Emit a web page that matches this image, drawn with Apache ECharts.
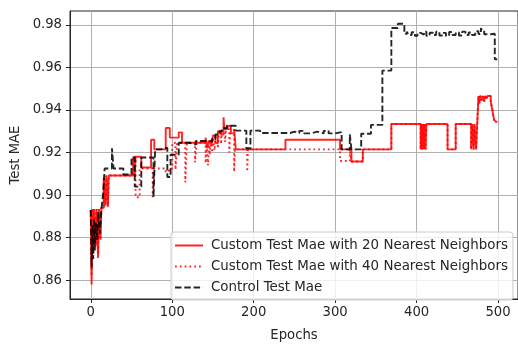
<!DOCTYPE html>
<html>
<head>
<meta charset="utf-8">
<script src="https://cdn.jsdelivr.net/npm/echarts@6/dist/echarts.min.js"></script>
<style>
  html, body { margin: 0; padding: 0; background: #ffffff; }
  #chart { width: 518px; height: 347px; }
</style>
</head>
<body>
<div id="chart"></div>
<script>
// Test MAE per epoch, stored as change points (epoch where the value changes, new value).
const seriesNames = [
  'Custom Test Mae with 20 Nearest Neighbors',
  'Custom Test Mae with 40 Nearest Neighbors',
  'Control Test Mae'
];

const epochs20 = [0, 1, 2, 3, 4, 6, 7, 9, 10, 12, 13, 16, 18, 19, 21, 22, 52, 54, 55, 62, 74, 78, 92, 97, 108, 112,
  141, 143, 145, 148, 150, 153, 156, 160, 163, 164, 168, 172, 176, 178, 239, 306, 320, 334, 369,
  405, 406, 407, 408, 409, 410, 411, 412, 438, 448, 467, 468, 470, 471, 473, 474, 476, 477, 478, 480, 481,
  483, 484, 486, 487, 491, 493, 495, 497, 499];
const mae20 = [0.893, 0.858, 0.8935, 0.873, 0.8935, 0.876, 0.8935, 0.8705, 0.8935, 0.879, 0.894, 0.908, 0.895, 0.9092, 0.8945, 0.9092, 0.918, 0.9085, 0.918, 0.913, 0.926, 0.9215, 0.9315, 0.927, 0.9295, 0.9246,
  0.927, 0.922, 0.9255, 0.923, 0.928, 0.9245, 0.930, 0.9285, 0.9366, 0.931, 0.9325, 0.929, 0.931, 0.9215, 0.926, 0.9215, 0.9158, 0.9215, 0.9334,
  0.9215, 0.9334, 0.9215, 0.9334, 0.9215, 0.9334, 0.9215, 0.9334, 0.9215, 0.9334, 0.9215, 0.9334, 0.9215, 0.9334, 0.9215, 0.930, 0.9466, 0.943, 0.9466, 0.9445, 0.9466,
  0.944, 0.9466, 0.9455, 0.9466, 0.944, 0.940, 0.9355, 0.9345, 0.9345];

const epochs40 = [0, 1, 2, 3, 4, 6, 7, 9, 10, 12, 13, 16, 18, 19, 21, 22, 52, 55, 60, 76, 78, 92, 96, 100, 104, 106,
  116, 118, 128, 130, 141, 142, 144, 145, 146, 147, 149, 150, 152, 153, 156, 157, 160, 161, 165, 166, 170, 171,
  176, 177, 192, 193, 306, 318, 320, 334, 369, 405, 406, 407, 408, 409, 410, 411, 412, 438, 448, 467, 468, 470,
  471, 473, 474, 476, 477, 478, 480, 481, 483, 484, 486, 487, 491, 493, 495, 497, 499];
const mae40 = [0.893, 0.862, 0.8935, 0.876, 0.8935, 0.878, 0.8935, 0.872, 0.8935, 0.880, 0.894, 0.908, 0.896, 0.9092, 0.895, 0.9092, 0.918, 0.899, 0.9125, 0.899, 0.9125, 0.911, 0.9125, 0.9245, 0.912, 0.9245,
  0.906, 0.9246, 0.9154, 0.9246, 0.915, 0.9255, 0.914, 0.925, 0.919, 0.926, 0.920, 0.927, 0.921, 0.928, 0.922, 0.929, 0.924, 0.931, 0.925, 0.931, 0.920, 0.931,
  0.911, 0.9215, 0.911, 0.9215, 0.916, 0.9215, 0.9158, 0.9215, 0.9334, 0.9215, 0.9334, 0.9215, 0.9334, 0.9215, 0.9334, 0.9215, 0.9334, 0.9215, 0.9334, 0.9215, 0.9334, 0.9215,
  0.9334, 0.9215, 0.930, 0.9466, 0.943, 0.9466, 0.9445, 0.9466, 0.944, 0.9466, 0.9455, 0.9466, 0.944, 0.940, 0.9355, 0.9345, 0.9345];

const epochsCtrl = [0, 1, 2, 3, 4, 5, 6, 8, 9, 11, 13, 15, 17, 26, 28, 40, 50, 54, 62, 77, 79, 86, 94, 98, 108, 121, 129,
  145, 149, 153, 158, 161, 167, 178, 191, 196, 208, 245, 250, 256, 262, 270, 278, 286, 292, 300, 308, 318, 320,
  332, 344, 358, 369, 377, 385, 388, 390, 394, 398, 401, 405, 409, 412, 416, 420, 424, 428, 432, 436, 440, 444,
  448, 452, 456, 460, 464, 468, 472, 476, 479, 480, 483, 491, 496, 499];
const maeCtrl = [0.893, 0.866, 0.886, 0.870, 0.889, 0.874, 0.887, 0.879, 0.892, 0.882, 0.893, 0.900, 0.9125, 0.922, 0.9125, 0.9097, 0.9177, 0.904, 0.9177, 0.899, 0.9215, 0.9223, 0.9085, 0.919, 0.9246, 0.9238, 0.9254,
  0.925, 0.9265, 0.9285, 0.930, 0.9315, 0.9326, 0.9303, 0.922, 0.9303, 0.9292, 0.9298, 0.9292, 0.9302, 0.929, 0.9298, 0.929, 0.9302, 0.929, 0.9296, 0.9215, 0.9285, 0.9215,
  0.9288, 0.933, 0.9585, 0.9785, 0.9805, 0.9758, 0.9768, 0.9752, 0.9765, 0.9748, 0.9762, 0.9754, 0.9768, 0.9748, 0.9763, 0.9752, 0.9768, 0.975, 0.9762, 0.9748, 0.9766, 0.9752,
  0.9764, 0.975, 0.9768, 0.9752, 0.9764, 0.9752, 0.977, 0.9757, 0.9785, 0.9774, 0.9756, 0.9758, 0.9638, 0.9638];

const xTicks = [0, 100, 200, 300, 400, 500];
const yTicks = [0.86, 0.88, 0.90, 0.92, 0.94, 0.96, 0.98];

function pairs(xs, ys) {
  return xs.map((x, i) => [x, ys[i]]);
}

const FONT = 'DejaVu Sans';
const FS = 13.2;
const TEXT = '#262626';

const chart = echarts.init(document.getElementById('chart'), null, { renderer: 'canvas' });

chart.setOption({
  animation: false,
  backgroundColor: '#ffffff',
  grid: {
    left: 70, top: 11, right: -3, bottom: 43,
    show: true, borderColor: '#262626', borderWidth: 1, backgroundColor: 'transparent'
  },
  xAxis: {
    type: 'value',
    min: -25.5, max: 524.5,
    name: 'Epochs', nameLocation: 'middle', nameGap: 30,
    nameTextStyle: { fontFamily: FONT, fontSize: FS, color: TEXT },
    axisLine: { show: true, onZero: false, lineStyle: { color: '#262626', width: 1 } },
    axisTick: { show: true, length: 4, customValues: xTicks, lineStyle: { color: '#262626' } },
    axisLabel: { customValues: xTicks, margin: 7, fontFamily: FONT, fontSize: FS, color: TEXT },
    splitLine: { show: true, lineStyle: { color: '#b0b0b0', width: 1 } }
  },
  yAxis: {
    type: 'value',
    min: 0.8512, max: 0.9865,
    name: 'Test MAE', nameLocation: 'middle', nameGap: 44,
    nameTextStyle: { fontFamily: FONT, fontSize: FS, color: TEXT },
    axisLine: { show: true, onZero: false, lineStyle: { color: '#262626', width: 1 } },
    axisTick: { show: true, length: 4, customValues: yTicks, lineStyle: { color: '#262626' } },
    axisLabel: {
      customValues: yTicks, margin: 8, fontFamily: FONT, fontSize: FS, color: TEXT,
      formatter: v => v.toFixed(2)
    },
    splitLine: { show: true, lineStyle: { color: '#b0b0b0', width: 1 } }
  },
  legend: {
    orient: 'vertical',
    left: 171, top: 232,
    padding: [7, 5, 6, 3],
    itemWidth: 28, itemHeight: 11, itemGap: 8,
    itemStyle: { opacity: 0 },
    backgroundColor: 'rgba(255,255,255,0.8)',
    borderColor: '#cccccc', borderWidth: 1, borderRadius: 3,
    textStyle: { fontFamily: FONT, fontSize: 13.4, color: TEXT, padding: [0, 0, 0, 3] },
    data: seriesNames
  },
  series: [
    {
      name: seriesNames[0], type: 'line', step: 'end', showSymbol: false, symbol: 'none',
      data: pairs(epochs20, mae20),
      lineStyle: { color: '#ff0000', width: 1.9, opacity: 0.85 },
      itemStyle: { color: '#ff0000' }, z: 2
    },
    {
      name: seriesNames[1], type: 'line', step: 'end', showSymbol: false, symbol: 'none',
      data: pairs(epochs40, mae40),
      lineStyle: { color: '#ff0000', width: 1.9, opacity: 0.85, type: [1.8, 3] },
      itemStyle: { color: '#ff0000' }, z: 3
    },
    {
      name: seriesNames[2], type: 'line', step: 'end', showSymbol: false, symbol: 'none',
      data: pairs(epochsCtrl, maeCtrl),
      lineStyle: { color: '#000000', width: 1.9, opacity: 0.85, type: [6.5, 2.8] },
      itemStyle: { color: '#000000' }, z: 4
    }
  ]
});
</script>
</body>
</html>
